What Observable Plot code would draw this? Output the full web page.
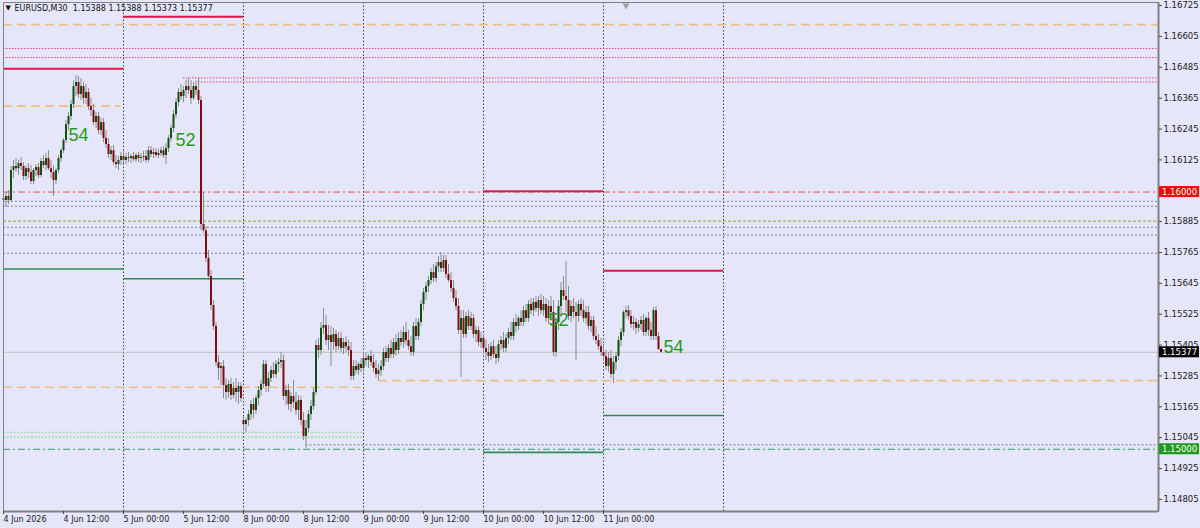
<!DOCTYPE html>
<html><head><meta charset="utf-8">
<script src="https://cdn.jsdelivr.net/npm/d3@7"></script>
<script src="https://cdn.jsdelivr.net/npm/@observablehq/plot@0.6"></script>
<style>
html,body{margin:0;padding:0;background:#e6e6fa;}
#chart svg{display:block;}
</style></head><body><div id="chart"></div>
<script>
// ---------- data ----------
const symbol = "EURUSD", timeframe = "M30";
const open = [1.15975,1.15967,1.15983,1.15967,1.16084,1.16099,1.16091,1.16111,1.16099,1.16060,1.16091,1.16076,1.16041,1.16084,1.16095,1.16064,1.16119,1.16103,1.16130,1.16091,1.16076,1.16045,1.16084,1.16130,1.16161,1.16200,1.16262,1.16294,1.16340,1.16410,1.16426,1.16379,1.16410,1.16364,1.16387,1.16332,1.16317,1.16270,1.16294,1.16239,1.16270,1.16208,1.16185,1.16146,1.16161,1.16115,1.16107,1.16123,
1.16138,1.16123,1.16134,1.16130,1.16138,1.16126,1.16142,1.16130,1.16134,1.16138,1.16123,1.16161,1.16146,1.16154,1.16142,1.16150,1.16161,1.16142,1.16169,1.16208,1.16247,1.16301,1.16348,1.16387,1.16371,1.16395,1.16410,1.16395,1.16364,1.16410,1.16395,1.16356,1.15874,1.15850,1.15742,1.15672,1.15559,1.15477,1.15337,1.15314,1.15322,1.15248,1.15221,1.15252,1.15209,1.15236,1.15221,1.15244,
1.15112,1.15096,1.15112,1.15135,1.15174,1.15151,1.15197,1.15228,1.15252,1.15330,1.15244,1.15275,1.15306,1.15291,1.15330,1.15337,1.15345,1.15205,1.15228,1.15174,1.15205,1.15182,1.15151,1.15190,1.15112,1.15050,1.15081,1.15135,1.15166,1.15221,1.15403,1.15384,1.15470,1.15481,1.15423,1.15442,1.15415,1.15446,1.15399,1.15431,1.15392,1.15415,1.15399,1.15384,1.15283,1.15322,1.15306,1.15330,
1.15314,1.15353,1.15345,1.15361,1.15337,1.15314,1.15291,1.15306,1.15322,1.15376,1.15353,1.15392,1.15368,1.15415,1.15384,1.15431,1.15415,1.15454,1.15423,1.15399,1.15376,1.15477,1.15438,1.15493,1.15563,1.15609,1.15633,1.15656,1.15687,1.15664,1.15710,1.15726,1.15703,1.15734,1.15679,1.15656,1.15625,1.15586,1.15555,1.15462,1.15508,1.15446,1.15516,1.15477,1.15508,1.15446,1.15462,1.15415,
1.15431,1.15392,1.15376,1.15361,1.15399,1.15368,1.15353,1.15407,1.15423,1.15392,1.15431,1.15454,1.15438,1.15493,1.15477,1.15508,1.15493,1.15539,1.15508,1.15563,1.15539,1.15571,1.15547,1.15578,1.15539,1.15563,1.15508,1.15555,1.15532,1.15376,1.15493,1.15555,1.15617,1.15594,1.15578,1.15516,1.15555,1.15532,1.15516,1.15563,1.15539,1.15508,1.15532,1.15477,1.15501,1.15438,1.15423,1.15399,
1.15376,1.15361,1.15322,1.15353,1.15291,1.15337,1.15361,1.15423,1.15454,1.15532,1.15539,1.15516,1.15485,1.15493,1.15470,1.15485,1.15501,1.15454,1.15508,1.15462,1.15438,1.15539,1.15438,1.15388];
const high = [1.16006,1.15998,1.16006,1.16099,1.16123,1.16130,1.16123,1.16134,1.16115,1.16103,1.16111,1.16103,1.16091,1.16107,1.16111,1.16130,1.16142,1.16150,1.16161,1.16123,1.16103,1.16091,1.16142,1.16169,1.16208,1.16278,1.16309,1.16356,1.16433,1.16453,1.16449,1.16441,1.16426,1.16418,1.16402,1.16364,1.16340,1.16309,1.16309,1.16286,1.16286,1.16239,1.16208,1.16177,1.16181,1.16142,1.16138,1.16154,
1.16161,1.16150,1.16154,1.16146,1.16154,1.16150,1.16154,1.16150,1.16158,1.16161,1.16177,1.16177,1.16169,1.16169,1.16165,1.16173,1.16177,1.16189,1.16220,1.16259,1.16317,1.16364,1.16402,1.16418,1.16410,1.16433,1.16441,1.16433,1.16426,1.16433,1.16441,1.16371,1.15998,1.15866,1.15773,1.15695,1.15578,1.15493,1.15365,1.15337,1.15345,1.15275,1.15267,1.15275,1.15260,1.15275,1.15260,1.15260,
1.15127,1.15120,1.15151,1.15190,1.15197,1.15209,1.15244,1.15267,1.15345,1.15345,1.15298,1.15322,1.15337,1.15345,1.15353,1.15376,1.15365,1.15248,1.15252,1.15221,1.15267,1.15221,1.15209,1.15205,1.15143,1.15112,1.15151,1.15190,1.15236,1.15423,1.15431,1.15493,1.15547,1.15520,1.15481,1.15477,1.15470,1.15462,1.15454,1.15454,1.15431,1.15438,1.15423,1.15415,1.15345,1.15345,1.15337,1.15353,
1.15376,1.15376,1.15368,1.15384,1.15368,1.15345,1.15330,1.15345,1.15392,1.15399,1.15407,1.15423,1.15431,1.15446,1.15454,1.15462,1.15477,1.15493,1.15462,1.15438,1.15493,1.15508,1.15508,1.15578,1.15625,1.15648,1.15672,1.15703,1.15718,1.15726,1.15749,1.15765,1.15753,1.15753,1.15718,1.15687,1.15656,1.15617,1.15586,1.15539,1.15539,1.15532,1.15539,1.15532,1.15524,1.15477,1.15477,1.15454,
1.15446,1.15423,1.15407,1.15415,1.15423,1.15399,1.15423,1.15438,1.15454,1.15446,1.15470,1.15493,1.15508,1.15524,1.15516,1.15539,1.15555,1.15563,1.15578,1.15586,1.15586,1.15594,1.15594,1.15602,1.15594,1.15586,1.15578,1.15594,1.15578,1.15508,1.15578,1.15648,1.15672,1.15730,1.15633,1.15578,1.15586,1.15571,1.15578,1.15586,1.15578,1.15555,1.15555,1.15516,1.15516,1.15477,1.15446,1.15431,
1.15407,1.15384,1.15376,1.15384,1.15361,1.15376,1.15438,1.15470,1.15539,1.15555,1.15559,1.15539,1.15516,1.15508,1.15501,1.15516,1.15524,1.15516,1.15532,1.15493,1.15551,1.15555,1.15454,1.15388];
const low = [1.15948,1.15940,1.15951,1.15959,1.16053,1.16076,1.16064,1.16084,1.16045,1.16045,1.16053,1.16029,1.16029,1.16060,1.16053,1.16056,1.16091,1.16084,1.16084,1.16053,1.15983,1.16029,1.16072,1.16115,1.16150,1.16189,1.16239,1.16278,1.16325,1.16371,1.16364,1.16356,1.16340,1.16340,1.16317,1.16294,1.16259,1.16247,1.16224,1.16220,1.16192,1.16169,1.16130,1.16123,1.16103,1.16091,1.16084,1.16103,
1.16111,1.16107,1.16115,1.16111,1.16119,1.16115,1.16115,1.16111,1.16119,1.16111,1.16115,1.16134,1.16130,1.16134,1.16130,1.16138,1.16130,1.16107,1.16154,1.16196,1.16231,1.16286,1.16332,1.16356,1.16348,1.16364,1.16379,1.16340,1.16356,1.16375,1.16340,1.15850,1.15839,1.15726,1.15656,1.15539,1.15462,1.15322,1.15267,1.15248,1.15197,1.15190,1.15197,1.15190,1.15197,1.15182,1.15174,1.15182,
1.15073,1.15065,1.15089,1.15112,1.15120,1.15135,1.15170,1.15205,1.15236,1.15221,1.15221,1.15260,1.15275,1.15275,1.15298,1.15314,1.15190,1.15170,1.15151,1.15143,1.15159,1.15131,1.15112,1.15092,1.15034,1.15003,1.15065,1.15112,1.15151,1.15209,1.15353,1.15365,1.15446,1.15403,1.15384,1.15322,1.15384,1.15376,1.15384,1.15376,1.15368,1.15376,1.15361,1.15267,1.15267,1.15291,1.15287,1.15298,
1.15298,1.15322,1.15314,1.15322,1.15298,1.15275,1.15267,1.15283,1.15306,1.15337,1.15337,1.15353,1.15353,1.15361,1.15368,1.15399,1.15392,1.15403,1.15384,1.15361,1.15361,1.15423,1.15423,1.15477,1.15539,1.15578,1.15609,1.15641,1.15648,1.15648,1.15687,1.15687,1.15687,1.15664,1.15648,1.15609,1.15571,1.15539,1.15446,1.15279,1.15431,1.15431,1.15462,1.15462,1.15431,1.15415,1.15399,1.15392,
1.15376,1.15345,1.15337,1.15345,1.15353,1.15330,1.15337,1.15384,1.15376,1.15376,1.15407,1.15423,1.15423,1.15454,1.15462,1.15477,1.15477,1.15493,1.15493,1.15524,1.15516,1.15532,1.15516,1.15524,1.15516,1.15493,1.15485,1.15508,1.15361,1.15357,1.15462,1.15516,1.15578,1.15532,1.15501,1.15493,1.15508,1.15345,1.15493,1.15516,1.15493,1.15485,1.15462,1.15454,1.15423,1.15407,1.15384,1.15361,
1.15345,1.15306,1.15298,1.15275,1.15256,1.15306,1.15345,1.15399,1.15438,1.15508,1.15501,1.15470,1.15462,1.15446,1.15454,1.15462,1.15438,1.15438,1.15438,1.15423,1.15423,1.15423,1.15384,1.15373];
const close = [1.15967,1.15983,1.15967,1.16084,1.16099,1.16091,1.16111,1.16099,1.16060,1.16091,1.16076,1.16041,1.16084,1.16095,1.16064,1.16119,1.16103,1.16130,1.16091,1.16076,1.16045,1.16084,1.16130,1.16161,1.16200,1.16262,1.16294,1.16340,1.16410,1.16426,1.16379,1.16410,1.16364,1.16387,1.16332,1.16317,1.16270,1.16294,1.16239,1.16270,1.16208,1.16185,1.16146,1.16161,1.16115,1.16107,1.16123,1.16138,
1.16123,1.16134,1.16130,1.16138,1.16126,1.16142,1.16130,1.16134,1.16138,1.16123,1.16161,1.16146,1.16154,1.16142,1.16150,1.16161,1.16142,1.16169,1.16208,1.16247,1.16301,1.16348,1.16387,1.16371,1.16395,1.16410,1.16395,1.16364,1.16410,1.16395,1.16356,1.15874,1.15850,1.15742,1.15672,1.15559,1.15477,1.15337,1.15314,1.15322,1.15248,1.15221,1.15252,1.15209,1.15236,1.15221,1.15244,1.15197,
1.15096,1.15112,1.15135,1.15174,1.15151,1.15197,1.15228,1.15252,1.15330,1.15244,1.15275,1.15306,1.15291,1.15330,1.15337,1.15345,1.15205,1.15228,1.15174,1.15205,1.15182,1.15151,1.15190,1.15112,1.15050,1.15081,1.15135,1.15166,1.15221,1.15403,1.15384,1.15470,1.15481,1.15423,1.15442,1.15415,1.15446,1.15399,1.15431,1.15392,1.15415,1.15399,1.15384,1.15283,1.15322,1.15306,1.15330,1.15314,
1.15353,1.15345,1.15361,1.15337,1.15314,1.15291,1.15306,1.15322,1.15376,1.15353,1.15392,1.15368,1.15415,1.15384,1.15431,1.15415,1.15454,1.15423,1.15399,1.15376,1.15477,1.15438,1.15493,1.15563,1.15609,1.15633,1.15656,1.15687,1.15664,1.15710,1.15726,1.15703,1.15734,1.15679,1.15656,1.15625,1.15586,1.15555,1.15462,1.15508,1.15446,1.15516,1.15477,1.15508,1.15446,1.15462,1.15415,1.15431,
1.15392,1.15376,1.15361,1.15399,1.15368,1.15353,1.15407,1.15423,1.15392,1.15431,1.15454,1.15438,1.15493,1.15477,1.15508,1.15493,1.15539,1.15508,1.15563,1.15539,1.15571,1.15547,1.15578,1.15539,1.15563,1.15508,1.15555,1.15532,1.15376,1.15493,1.15555,1.15617,1.15594,1.15578,1.15516,1.15555,1.15532,1.15516,1.15563,1.15539,1.15508,1.15532,1.15477,1.15501,1.15438,1.15423,1.15399,1.15376,
1.15361,1.15322,1.15353,1.15291,1.15337,1.15361,1.15423,1.15454,1.15532,1.15539,1.15516,1.15485,1.15493,1.15470,1.15485,1.15501,1.15454,1.15508,1.15462,1.15438,1.15539,1.15438,1.15388,1.15377];

// time axis (bar index of each label, M30 bars, weekend skipped)
const timeTickBars = [0,24,48,72,96,120,144,168,192,216,240];
const timeTickLabels = ["4 Jun 2026","4 Jun 12:00","5 Jun 00:00","5 Jun 12:00","8 Jun 00:00","8 Jun 12:00","9 Jun 00:00","9 Jun 12:00","10 Jun 00:00","10 Jun 12:00","11 Jun 00:00"];
const daySeparatorBars = [48,96,144,192,240,288];
const chartShiftBar = [249];
const priceTicks = [1.16725,1.16605,1.16485,1.16365,1.16245,1.16125,1.15885,1.15765,1.15645,1.15525,1.15405,1.15285,1.15165,1.15045,1.14925,1.14805];

// horizontal levels: [price, fromBar, toBar] (null toBar = to the right edge)
const tanDashed     = [[1.16651,0,null],[1.16334,0,47],[1.15241,0,143],[1.15267,150,null]];
const crimsonDotted = [[1.16558,0,null],[1.16523,0,null],[1.16444,72,null],[1.16428,78,null]];
const crimsonSolid  = [[1.16479,0,48],[1.16682,48,96],[1.16003,192,240],[1.15694,240,288]];
const greenSolid    = [[1.15701,0,48],[1.15663,48,96],[1.14988,192,240],[1.15131,240,288]];
const grayDotted    = [[1.15964,0,null],[1.15945,0,null],[1.15863,0,null],[1.15833,0,null],[1.15762,0,null]];
const oliveDotted   = [[1.15887,0,null]];
const lightGreenDotted = [[1.15066,0,144],[1.15047,0,144]];
const blueDotted    = [[1.15017,121,null]];
const roundRed = 1.16000, roundGreen = 1.15000;
const bidPrice = close[close.length-1];

// wave labels
const waveLabels = [
  {bar:30, price:1.16222, text:"54"},
  {bar:72.8, price:1.16202, text:"52"},
  {bar:222, price:1.15503, text:"52"},
  {bar:268, price:1.15396, text:"54"}
];

// ---------- chart ----------
const rightEdge = 462;
const bars = open.map((o,i)=>({i, o, h:high[i], l:low[i], c:close[i]}));
const seg = arr => arr.map(([p,a,b])=>({p, a, b: b==null ? rightEdge : b}));
const levelRule = (arr, opts) => Plot.ruleY(seg(arr), {y:"p", x1:"a", x2:"b", ...opts});

const font = "DejaVu Sans, Verdana, sans-serif";
const last = bars[bars.length-1];
const header = `${symbol},${timeframe}  ${last.o.toFixed(5)} ${last.h.toFixed(5)} ${last.l.toFixed(5)} ${last.c.toFixed(5)}`;
const tickLabelMap = new Map(timeTickBars.map((b,i)=>[b,timeTickLabels[i]]));

const chart = Plot.plot({
  width: 1200, height: 528,
  marginLeft: 3, marginRight: 42, marginTop: 2, marginBottom: 17,
  style: {background:"#e6e6fa", fontFamily: font, fontSize:"8.5px", color:"#1a1a1a", overflow:"visible"},
  x: {type:"linear", domain:[0, rightEdge], axis:null},
  y: {domain:[1.14758, 1.16737], axis:null},
  marks: [
    Plot.ruleX(daySeparatorBars, {x:d=>d, stroke:"#3c3c3c", strokeDasharray:"1.5,2", strokeWidth:1}),
    levelRule(tanDashed, {stroke:"#e8c088", strokeWidth:1.7, strokeDasharray:"9,5"}),
    levelRule(crimsonDotted, {stroke:"#e0406e", strokeWidth:1, strokeDasharray:"1.5,1.5"}),
    levelRule(grayDotted, {stroke:"#7d8694", strokeWidth:1, strokeDasharray:"2,2"}),
    levelRule(oliveDotted, {stroke:"#a6ad52", strokeWidth:1.2, strokeDasharray:"3,2"}),
    levelRule(lightGreenDotted, {stroke:"#8fd68f", strokeWidth:1, strokeDasharray:"2,1.5"}),
    levelRule(blueDotted, {stroke:"#5f7fa0", strokeWidth:1, strokeDasharray:"2,2"}),
    Plot.ruleY([roundRed], {stroke:"#e4505a", strokeWidth:1, strokeDasharray:"7,3,2,3"}),
    Plot.ruleY([roundGreen], {stroke:"#3d9a6e", strokeWidth:1, strokeDasharray:"7,3,2,3"}),
    Plot.ruleY([bidPrice], {stroke:"#c0c0c0", strokeWidth:1}),
    levelRule(crimsonSolid, {stroke:"#d8194a", strokeWidth:2}),
    levelRule(greenSolid, {stroke:"#2e8b57", strokeWidth:1.6}),
    // candles
    Plot.ruleX(bars, {x:"i", y1:"l", y2:"h", stroke:"#8a8a8a", strokeWidth:1}),
    Plot.ruleX(bars, {filter:d=>d.c>=d.o, x:"i", y1:"o", y2:"c", stroke:"#0f4f12", strokeWidth:2}),
    Plot.ruleX(bars, {filter:d=>d.c<d.o, x:"i", y1:"o", y2:"c", stroke:"#7d0d12", strokeWidth:2}),
    Plot.text(waveLabels, {x:"bar", y:"price", text:"text", fill:"#1f9b22", fontSize:18, fontFamily:"Liberation Sans, Arial, sans-serif", textAnchor:"middle", lineAnchor:"middle"}),
    Plot.text(["\u25BC"], {frameAnchor:"top-left", dx:2, dy:3, fontSize:7, lineAnchor:"top", textAnchor:"start", fill:"#111"}),
    Plot.text([header], {frameAnchor:"top-left", dx:11, dy:2.5, fontSize:8, lineAnchor:"top", textAnchor:"start", fill:"#111"}),
    Plot.dot(chartShiftBar, {x:d=>d, frameAnchor:"top", dy:3, symbol:"triangle", r:2.6, rotate:180, fill:"#a0a0a0", stroke:"none"}),
    Plot.frame({stroke:"#808080", strokeWidth:1}),
    Plot.ruleY([1.14758], {stroke:"#808080", strokeWidth:2}),
    Plot.ruleX([rightEdge], {stroke:"#808080", strokeWidth:2}),
    Plot.axisY({anchor:"right", ticks:priceTicks, tickFormat:d=>d.toFixed(5), tickSize:3, tickPadding:2, fontSize:8.5, stroke:"#444"}),
    Plot.axisX({ticks:timeTickBars, tickFormat:d=>tickLabelMap.get(d), tickSize:3, tickPadding:1.5, textAnchor:"start", fontSize:8, stroke:"#444"})
  ]
});

// axis price badges drawn with the chart's own scales
const ySc = chart.scale("y"), xSc = chart.scale("x");
const bx = xSc.apply(rightEdge);
const badges = [
  {price: roundRed, bg:"#ff0000", fg:"#ffffff"},
  {price: bidPrice, bg:"#000000", fg:"#ffffff"},
  {price: roundGreen, bg:"#1f9a1f", fg:"#ffffff"}
];
const bg = d3.select(chart).append("g").attr("font-family", font).attr("font-size", 8.5).attr("text-anchor", "start");
badges.forEach(b => {
  const y = ySc.apply(b.price);
  bg.append("rect").attr("x", bx+1).attr("y", y-5.5).attr("width", 40).attr("height", 11).attr("fill", b.bg);
  bg.append("text").attr("x", bx+4).attr("y", y).attr("dy","0.35em").attr("text-anchor","start").attr("fill", b.fg).text(b.price.toFixed(5));
});

document.getElementById("chart").appendChild(chart);
</script>
</body></html>
